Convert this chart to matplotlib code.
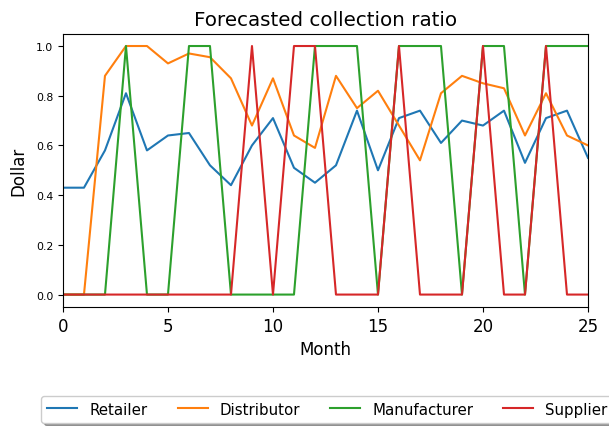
import numpy as np
import matplotlib
matplotlib.use("Agg")
import matplotlib.pyplot as plt

# monthly forecasted collection ratio per echelon
months = np.arange(0, 26)
retailer = [0.43, 0.43, 0.58, 0.81, 0.58, 0.64, 0.65, 0.52, 0.44, 0.60,
            0.71, 0.51, 0.45, 0.52, 0.74, 0.50, 0.71, 0.74, 0.61, 0.70,
            0.68, 0.74, 0.53, 0.71, 0.74, 0.55]
distributor = [0.0, 0.0, 0.88, 1.0, 1.0, 0.93, 0.97, 0.955, 0.87, 0.68,
               0.87, 0.64, 0.59, 0.88, 0.75, 0.82, 0.68, 0.54, 0.81, 0.88,
               0.85, 0.83, 0.64, 0.81, 0.64, 0.60]
manufacturer = [0, 0, 0, 1, 0, 0, 1, 1, 0, 0,
                0, 0, 1, 1, 1, 0, 1, 1, 1, 0,
                1, 1, 0, 1, 1, 1]
supplier = [0, 0, 0, 0, 0, 0, 0, 0, 0, 1,
            0, 1, 1, 0, 0, 0, 1, 0, 0, 0,
            1, 0, 0, 1, 0, 0]

fig = plt.figure(figsize=(6.09, 4.27), dpi=100)
ax = fig.add_axes([0.1034, 0.2787, 0.8621, 0.6403])

ax.plot(months, retailer, label="Retailer")
ax.plot(months, distributor, label="Distributor")
ax.plot(months, manufacturer, label="Manufacturer")
ax.plot(months, supplier, label="Supplier")

ax.set_xlim(0, 25)
ax.set_title("Forecasted collection ratio", fontsize=14.3)
ax.set_xlabel("Month", fontsize=12)
ax.set_ylabel("Dollar", fontsize=12, labelpad=6)
ax.tick_params(axis="x", labelsize=12)
ax.tick_params(axis="y", labelsize=7.8)

fig.legend(loc="upper left", bbox_to_anchor=(0.068, 0.071), ncol=4,
           fontsize=10.8, shadow=True, borderaxespad=0)

fig.savefig("out.png", dpi=100)
